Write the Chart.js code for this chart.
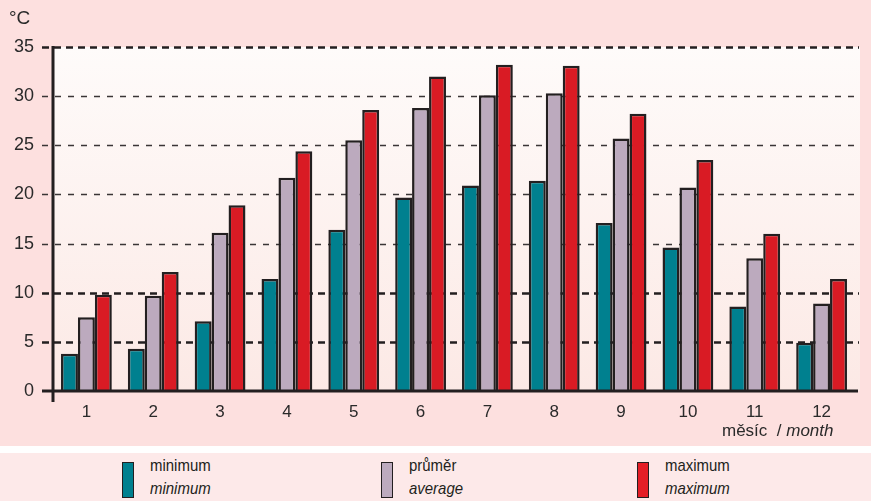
<!DOCTYPE html>
<html>
<head>
<meta charset="utf-8">
<script src="https://cdn.jsdelivr.net/npm/chart.js@4.4.1/dist/chart.umd.min.js"></script>
<style>
    body { margin: 0; background: #fde0df; }
    #wrap { position: relative; width: 871px; height: 501px; background: #fde0df; overflow: hidden; }
    #chart { position: absolute; left: 0; top: 0; }
    #sep { position: absolute; left: 0; top: 446px; width: 871px; height: 7px; background: #ffffff; }
    #legend { position: absolute; left: 0; top: 453px; width: 871px; height: 48px; background: #fde9e9; font-family: 'Liberation Sans Narrow', 'Liberation Sans', Arial, sans-serif; font-size: 17px; color: #231f20; }
    .item { position: absolute; top: 0; }
    .swatch { position: absolute; top: 9px; width: 10px; height: 34px; border: 1.5px solid #231f20; }
    .txt { position: absolute; left: 28px; white-space: nowrap; line-height: 18px; transform: scaleX(0.88); transform-origin: left top; }
    .txt i { display: block; margin-top: 5px; }
</style>
</head>
<body>
<div id="wrap">
    <canvas id="chart" width="871" height="447"></canvas>
    <div id="sep"></div>
    <div id="legend">
        <div class="item" style="left:122px"><div class="swatch" style="background:#00808f"></div><div class="txt" style="top:4px">minimum<i>minimum</i></div></div>
        <div class="item" style="left:381px"><div class="swatch" style="background:#bcaabe"></div><div class="txt" style="top:4px">průměr<i>average</i></div></div>
        <div class="item" style="left:637px"><div class="swatch" style="background:#e41e26"></div><div class="txt" style="top:4px">maximum<i>maximum</i></div></div>
    </div>
</div>
<script>
    // Monthly air temperatures (°C)
    const months = ['1', '2', '3', '4', '5', '6', '7', '8', '9', '10', '11', '12'];
    const tempMin = [3.8, 4.3, 7.1, 11.4, 16.4, 19.7, 20.9, 21.4, 17.1, 14.6, 8.6, 4.9];
    const tempAvg = [7.5, 9.7, 16.1, 21.7, 25.5, 28.8, 30.1, 30.3, 25.7, 20.7, 13.5, 8.9];
    const tempMax = [9.8, 12.1, 18.9, 24.4, 28.6, 32.0, 33.2, 33.1, 28.2, 23.5, 16.0, 11.4];
    const yTicks = [0, 5, 10, 15, 20, 25, 30, 35];
    const boldLines = [5, 10, 35];

    const ink = '#231f20';
    const font = "'Liberation Sans', Arial, sans-serif";

    // plot background + dashed grid under the bars
    const backdrop = {
        id: 'backdrop',
        beforeDatasetsDraw(chart) {
            const { ctx, chartArea: a, scales: { y } } = chart;
            ctx.save();
            const g = ctx.createLinearGradient(0, a.top, 0, a.bottom);
            g.addColorStop(0, '#fefbfa');
            g.addColorStop(1, '#fce9e5');
            ctx.fillStyle = g;
            ctx.fillRect(a.left, a.top, a.right - a.left + 5, a.bottom - a.top);
            yTicks.forEach(v => {
                if (v === 0) return;
                const py = Math.round(y.getPixelForValue(v)) + 0.5;
                const bold = boldLines.includes(v);
                ctx.beginPath();
                ctx.setLineDash(bold ? [7, 5] : [6, 7]);
                ctx.lineWidth = bold ? 2.6 : 1.4;
                ctx.strokeStyle = bold ? ink : '#3a3536';
                ctx.moveTo(a.left - 11, py);
                ctx.lineTo(a.right + 4, py);
                ctx.stroke();
            });
            ctx.restore();
        },
        afterDatasetsDraw(chart) {
            const { ctx, chartArea: a, scales: { y } } = chart;
            const y0 = y.getPixelForValue(0);
            ctx.save();
            ctx.strokeStyle = ink;
            ctx.lineWidth = 3;
            ctx.beginPath();
            ctx.moveTo(a.left, y.getPixelForValue(35) - 1);
            ctx.lineTo(a.left, y0 + 11);
            ctx.moveTo(a.left - 11, y0);
            ctx.lineTo(a.right + 3, y0);
            ctx.stroke();

            ctx.fillStyle = '#2a2a2a';
            ctx.font = '19px ' + font;
            ctx.textBaseline = 'middle';
            ctx.fillText('°C', 9, 19);
            ctx.font = '17px ' + font;
            ctx.fillText('měsíc  / ', 722, 431);
            const w = ctx.measureText('měsíc  / ').width;
            ctx.font = 'italic 17px ' + font;
            ctx.fillText('month', 722 + w, 431);
            ctx.restore();
        }
    };

    const barStyle = { borderColor: ink, borderWidth: 2.5, barPercentage: 1, categoryPercentage: 0.76 };

    new Chart(document.getElementById('chart'), {
        type: 'bar',
        data: {
            labels: months,
            datasets: [
                { label: 'minimum', data: tempMin, backgroundColor: '#00808f', ...barStyle },
                { label: 'průměr', data: tempAvg, backgroundColor: '#bcaabe', ...barStyle },
                { label: 'maximum', data: tempMax, backgroundColor: '#d91b24', ...barStyle }
            ]
        },
        options: {
            responsive: false,
            animation: false,
            layout: { padding: { top: 47, right: 16, left: 0, bottom: 0 } },
            plugins: { legend: { display: false }, tooltip: { enabled: false } },
            scales: {
                x: {
                    grid: { display: false, drawTicks: false },
                    border: { display: false },
                    ticks: { color: '#2a2a2a', font: { family: font, size: 17 }, padding: 11 },
                    afterFit(scale) { scale.height = 56; }
                },
                y: {
                    min: 0,
                    max: 35,
                    grid: { display: false, drawTicks: false },
                    border: { display: false },
                    afterBuildTicks(scale) { scale.ticks = yTicks.map(v => ({ value: v })); },
                    ticks: { color: '#2a2a2a', font: { family: font, size: 18 }, padding: 19 },
                    afterFit(scale) { scale.width = 53; }
                }
            }
        },
        plugins: [backdrop]
    });
</script>
</body>
</html>
